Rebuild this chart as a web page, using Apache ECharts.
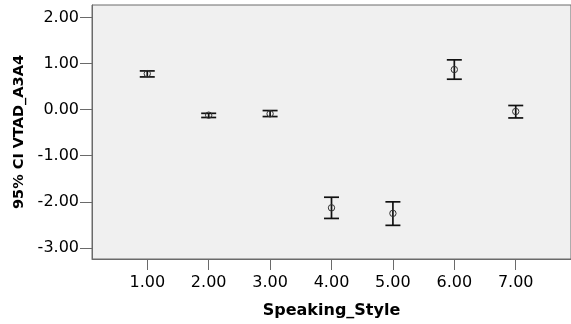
<!DOCTYPE html>
<html>
<head>
<meta charset="utf-8">
<script src="https://cdn.jsdelivr.net/npm/echarts@6/dist/echarts.min.js"></script>
<style>
html,body{margin:0;padding:0;background:#fff;}
#c{width:571px;height:324px;}
</style>
</head>
<body>
<div id="c"></div>
<script>
// Data
var categories = [1, 2, 3, 4, 5, 6, 7];
var means = [0.78, -0.12, -0.09, -2.13, -2.25, 0.87, -0.04];
var lowerCI = [0.71, -0.17, -0.15, -2.36, -2.51, 0.66, -0.18];
var upperCI = [0.84, -0.08, -0.02, -1.90, -2.00, 1.08, 0.09];
var xTicks = [1, 2, 3, 4, 5, 6, 7];
var yTicks = [-3, -2, -1, 0, 1, 2];
var xTitle = 'Speaking_Style';
var yTitle = '95% CI VTAD_A3A4';

var seriesData = categories.map(function (c, i) {
  return [c, means[i], lowerCI[i], upperCI[i]];
});

var chart = echarts.init(document.getElementById('c'), null, {renderer: 'canvas'});
var FONT = 'DejaVu Sans';
var axisGray = '#6a6a6a';

chart.setOption({
  animation: false,
  backgroundColor: '#ffffff',
  grid: {
    left: 92, top: 5, right: -4, bottom: 64,
    show: true, backgroundColor: '#f0f0f0', borderColor: axisGray, borderWidth: 1
  },
  xAxis: {
    type: 'value', min: 0.1, max: 7.9,
    name: xTitle, nameLocation: 'middle', nameGap: 44,
    nameTextStyle: {fontFamily: FONT, fontWeight: 'bold', fontSize: 16, color: '#000'},
    splitLine: {show: false},
    axisLine: {show: true, onZero: false, lineStyle: {color: axisGray, width: 1}},
    axisTick: {show: true, length: 11, customValues: xTicks, lineStyle: {color: axisGray, width: 1}},
    axisLabel: {
      customValues: xTicks, margin: 16, fontFamily: FONT, fontSize: 16, color: '#000',
      formatter: function (v) { return Number(v).toFixed(2); }
    }
  },
  yAxis: {
    type: 'value', min: -3.24, max: 2.27,
    name: yTitle, nameLocation: 'middle', nameGap: 64, nameRotate: 90,
    nameTextStyle: {fontFamily: FONT, fontWeight: 'bold', fontSize: 14.5, color: '#000'},
    splitLine: {show: false},
    axisLine: {show: true, onZero: false, lineStyle: {color: axisGray, width: 1}},
    axisTick: {show: true, length: 12, customValues: yTicks, lineStyle: {color: axisGray, width: 1}},
    axisLabel: {
      customValues: yTicks, margin: 13, fontFamily: FONT, fontSize: 16, color: '#000',
      formatter: function (v) { return Number(v).toFixed(2); }
    }
  },
  series: [{
    type: 'custom',
    data: seriesData,
    encode: {x: 0, y: [1, 2, 3]},
    renderItem: function (params, api) {
      var x = api.value(0);
      var m = api.coord([x, api.value(1)]);
      var lo = api.coord([x, api.value(2)]);
      var hi = api.coord([x, api.value(3)]);
      var hw = 7.5;
      var st = {stroke: '#111', lineWidth: 1.7, fill: null};
      return {
        type: 'group',
        children: [
          {type: 'line', shape: {x1: hi[0], y1: hi[1], x2: lo[0], y2: lo[1]}, style: st},
          {type: 'line', shape: {x1: hi[0] - hw, y1: hi[1], x2: hi[0] + hw, y2: hi[1]}, style: st},
          {type: 'line', shape: {x1: lo[0] - hw, y1: lo[1], x2: lo[0] + hw, y2: lo[1]}, style: st},
          {type: 'circle', shape: {cx: m[0], cy: m[1], r: 3.2}, style: {stroke: '#333', lineWidth: 1, fill: null}}
        ]
      };
    }
  }]
});
</script>
</body>
</html>
